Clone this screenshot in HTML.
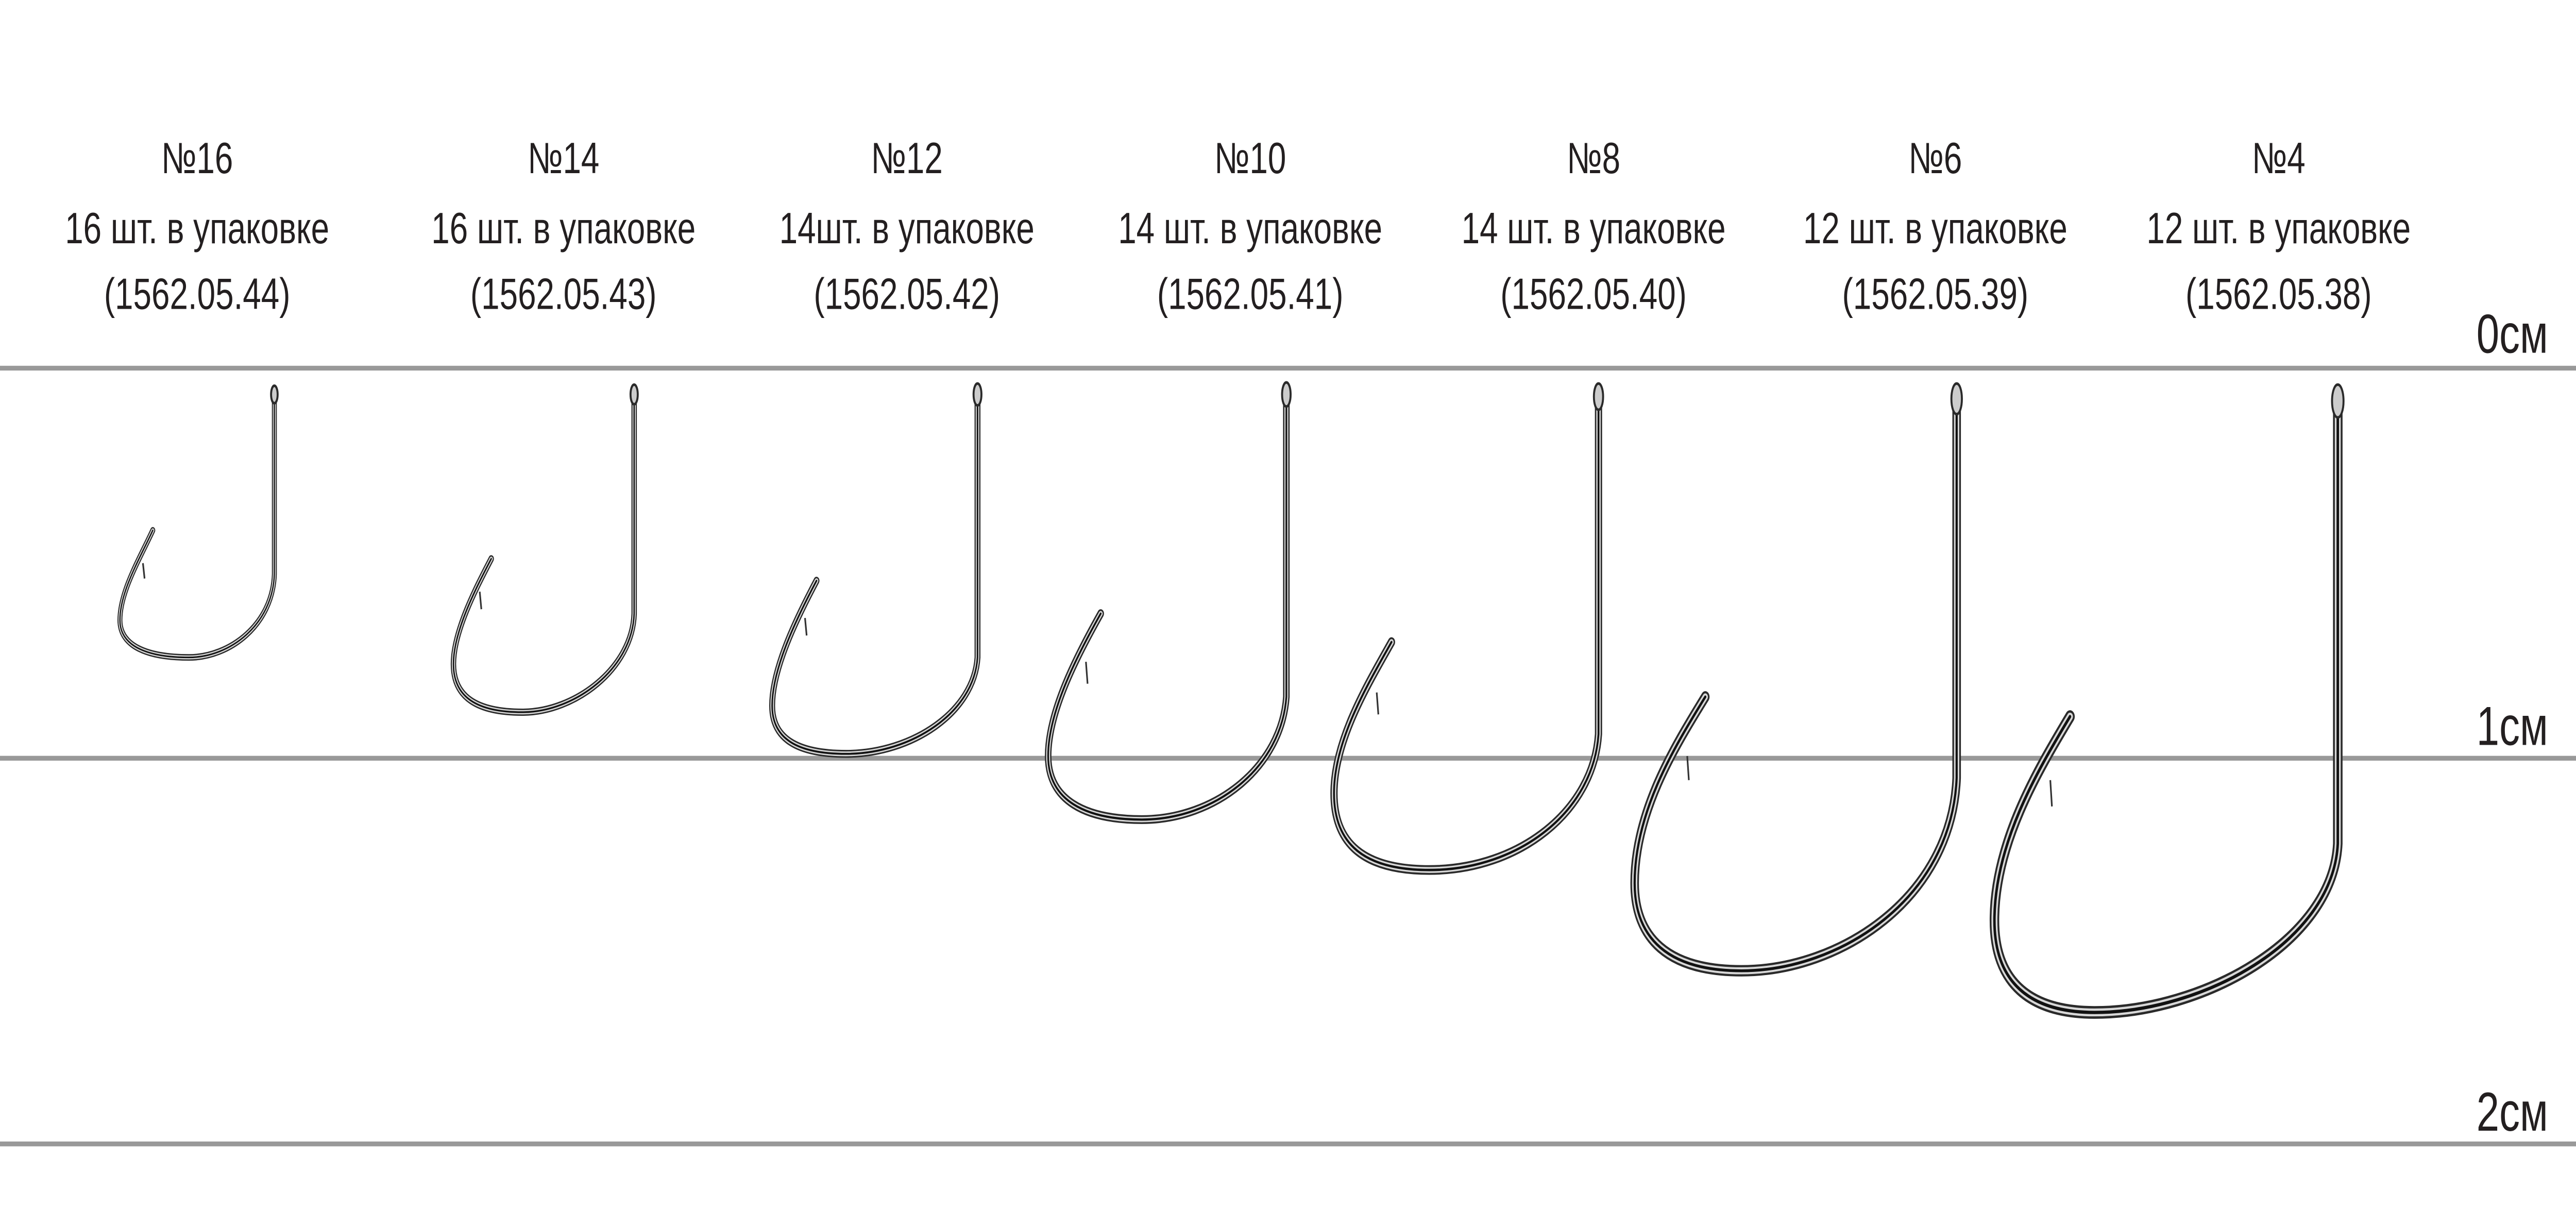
<!DOCTYPE html>
<html><head><meta charset="utf-8"><style>
html,body{margin:0;padding:0;background:#fff;width:100%;height:100%;overflow:hidden}
svg{display:block;position:absolute;left:0;top:0;width:100vw;height:100vh}
text{font-family:"Liberation Sans",sans-serif;fill:#231f20}
</style></head><body>
<svg viewBox="0 0 1568 559" preserveAspectRatio="none" xmlns="http://www.w3.org/2000/svg">
<g stroke="#999" stroke-width="2.2">
<line x1="0" y1="168" x2="1568" y2="168"/>
<line x1="0" y1="346" x2="1568" y2="346"/>
<line x1="0" y1="522" x2="1568" y2="522"/>
</g>
<g font-size="20" text-anchor="middle">
<text x="120" y="79">№16</text><text x="120" y="111">16 шт.  в упаковке</text><text x="120" y="141">(1562.05.44)</text>
<text x="343" y="79">№14</text><text x="343" y="111">16 шт.  в упаковке</text><text x="343" y="141">(1562.05.43)</text>
<text x="552" y="79">№12</text><text x="552" y="111">14шт.  в упаковке</text><text x="552" y="141">(1562.05.42)</text>
<text x="761" y="79">№10</text><text x="761" y="111">14 шт.  в упаковке</text><text x="761" y="141">(1562.05.41)</text>
<text x="970" y="79">№8</text><text x="970" y="111">14 шт.  в упаковке</text><text x="970" y="141">(1562.05.40)</text>
<text x="1178" y="79">№6</text><text x="1178" y="111">12 шт.  в упаковке</text><text x="1178" y="141">(1562.05.39)</text>
<text x="1387" y="79">№4</text><text x="1387" y="111">12 шт.  в упаковке</text><text x="1387" y="141">(1562.05.38)</text>
</g>
<g font-size="25" text-anchor="end">
<text x="1551" y="161">0см</text>
<text x="1551" y="340">1см</text>
<text x="1551" y="516">2см</text>
</g>
<defs>
<path id="h1" d="M167,180 L167,262 C166,285 140,300 115,300 C90,300 73,295 73,283 C73,270 85,255 93,242"/>
<path id="h2" d="M386,180 L386,280 C385,305 350,325 318,325 C290,325 276,318 276,303 C276,288 290,268 299,255"/>
<path id="h3" d="M595,180 L595,300 C593,325 555,344 515,344 C485,344 470,337 470,322 C470,305 485,282 497,265"/>
<path id="h4" d="M783,180 L783,318 C780,350 740,374 695,374 C660,374 638,365 638,345 C638,325 655,300 670,280"/>
<path id="h5" d="M973,180 L973,335 C970,370 925,397 870,397 C830,397 812,385 812,362 C812,338 832,313 847,293"/>
<path id="h6" d="M1191,182 L1191,355 C1188,410 1120,443 1060,443 C1015,443 995,428 995,403 C995,370 1020,340 1038,318"/>
<path id="h7" d="M1423,182 L1423,385 C1420,430 1340,462 1275,462 C1235,462 1214,448 1214,420 C1214,385 1240,352 1260,327"/>
</defs>
<g fill="none" stroke-linecap="round">
<g stroke="#2a2a2a">
<use href="#h1" stroke-width="3"/><use href="#h2" stroke-width="3.3"/><use href="#h3" stroke-width="3.6"/><use href="#h4" stroke-width="4"/><use href="#h5" stroke-width="4.4"/><use href="#h6" stroke-width="5.2"/><use href="#h7" stroke-width="5.8"/>
</g>
<g stroke="#d8d8d8">
<use href="#h1" stroke-width="1.8"/><use href="#h2" stroke-width="2"/><use href="#h3" stroke-width="2.2"/><use href="#h4" stroke-width="2.4"/><use href="#h5" stroke-width="2.7"/><use href="#h6" stroke-width="3.2"/><use href="#h7" stroke-width="3.6"/>
</g>
<g stroke="#111">
<use href="#h1" stroke-width="0.7"/><use href="#h2" stroke-width="0.8"/><use href="#h3" stroke-width="0.9"/><use href="#h4" stroke-width="1"/><use href="#h5" stroke-width="1.1"/><use href="#h6" stroke-width="1.3"/><use href="#h7" stroke-width="1.5"/>
</g>
</g>
<g fill="#ccc" stroke="#2a2a2a" stroke-width="1.2">
<ellipse cx="167" cy="180" rx="2" ry="4"/>
<ellipse cx="386" cy="180" rx="2.2" ry="4.5"/>
<ellipse cx="595" cy="180" rx="2.4" ry="5"/>
<ellipse cx="783" cy="180" rx="2.6" ry="5.5"/>
<ellipse cx="973" cy="181" rx="2.8" ry="6"/>
<ellipse cx="1191" cy="182" rx="3.2" ry="7"/>
<ellipse cx="1423" cy="183" rx="3.5" ry="7.5"/>
</g>
<g stroke="#333" stroke-width="1" fill="none">
<line x1="87" y1="257" x2="88" y2="264"/>
<line x1="292" y1="270" x2="293" y2="278"/>
<line x1="490" y1="282" x2="491" y2="290"/>
<line x1="661" y1="302" x2="662" y2="312"/>
<line x1="838" y1="316" x2="839" y2="326"/>
<line x1="1027" y1="345" x2="1028" y2="356"/>
<line x1="1248" y1="356" x2="1249" y2="368"/>
</g>
</svg>
</body></html>
